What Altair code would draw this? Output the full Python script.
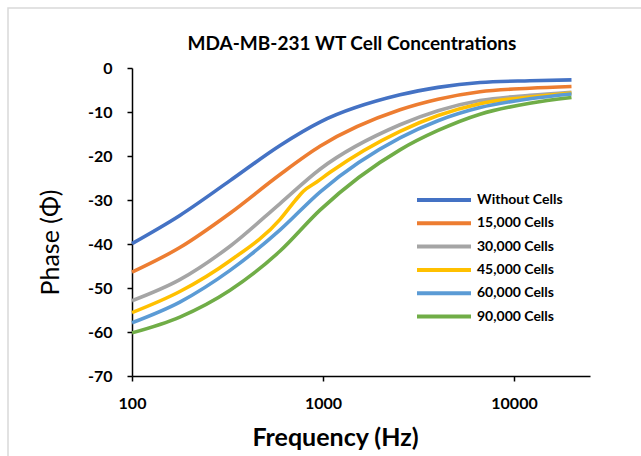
import altair as alt
import pandas as pd

series_names = ["Without Cells", "15,000 Cells", "30,000 Cells", "45,000 Cells", "60,000 Cells", "90,000 Cells"]
colors = ["#4472C4", "#ED7D31", "#A5A5A5", "#FFC000", "#5B9BD5", "#70AD47"]

freq_common = [100, 178, 326, 596, 964, 2530, 4000, 6640, 12100, 20000]
without_cells = [-39.9, -33.5, -25.6, -17.6, -12.3, -6.1, -4.4, -3.3, -2.9, -2.7]
cells_15k = [-46.4, -40.8, -33.0, -24.2, -17.8, -9.5, -7.1, -5.4, -4.6, -4.2]
cells_30k = [-52.9, -48.1, -40.5, -30.8, -23.0, -12.9, -9.7, -7.4, -6.2, -5.5]
freq_45k = [100, 178, 326, 596, 713, 789, 927, 1089, 2530, 4000, 6640, 12100, 20000]
cells_45k = [-55.6, -50.8, -43.8, -34.4, -30.2, -28.0, -25.9, -23.7, -14.4, -10.8, -8.1, -6.6, -5.7]
cells_60k = [-57.9, -53.2, -46.0, -36.8, -28.2, -15.9, -12.0, -9.0, -7.0, -5.9]
cells_90k = [-60.2, -56.6, -50.5, -41.6, -32.3, -18.6, -14.2, -10.5, -8.0, -6.7]

series_freqs = [freq_common, freq_common, freq_common, freq_45k, freq_common, freq_common]
series_vals = [without_cells, cells_15k, cells_30k, cells_45k, cells_60k, cells_90k]

rows = []
for name, fs, vs in zip(series_names, series_freqs, series_vals):
    for i, (f, v) in enumerate(zip(fs, vs)):
        rows.append({"series": name, "freq": f, "phase": v, "order": i})
df = pd.DataFrame(rows)

FONT = "Lato"

lines = alt.Chart(df).mark_line(strokeWidth=3.6, interpolate="monotone", clip=False).encode(
    x=alt.X("freq:Q",
            scale=alt.Scale(type="log", domain=[100, 25000], nice=False),
            axis=alt.Axis(values=[100, 1000, 10000], format="d", grid=False, labelFlush=False,
                          title="Frequency (Hz)", titleFontSize=25, titleFontWeight="bold",
                          titleX=203, titleY=61, titleBaseline="middle",
                          labelFontSize=16, labelFontWeight="bold", labelPadding=14,
                          tickSize=5, tickWidth=1.5, tickColor="black",
                          domainColor="black", domainWidth=1.5,
                          labelColor="black", titleColor="black")),
    y=alt.Y("phase:Q",
            scale=alt.Scale(domain=[-70, 0], nice=False, zero=False),
            axis=alt.Axis(values=[-70, -60, -50, -40, -30, -20, -10, 0], grid=False,
                          labelExpr="'' + datum.value", labelFlush=False,
                          title="Phase (Φ)", titleFontSize=25, titleFontWeight="normal",
                          titleX=-82, titleY=174, titleAngle=270, titleAlign="center",
                          titleBaseline="middle",
                          labelFontSize=16, labelFontWeight="bold", labelPadding=15,
                          tickSize=5, tickWidth=1.5, tickColor="black",
                          domainColor="black", domainWidth=1.5,
                          labelColor="black", titleColor="black")),
    color=alt.Color("series:N",
                    scale=alt.Scale(domain=series_names, range=colors),
                    sort=series_names,
                    legend=alt.Legend(title=None, orient="none", legendX=283, legendY=124,
                                      symbolType="stroke", symbolSize=2916, symbolStrokeWidth=4,
                                      clipHeight=16, rowPadding=7.3,
                                      labelFontSize=14, labelFontWeight="bold", labelColor="black",
                                      labelOffset=4)),
    order="order:Q",
)

frame = alt.Chart(pd.DataFrame({"a": [0]})).mark_rect(
    fill=None, stroke="#d9d9d9", strokeWidth=1.5, clip=False
).encode(x=alt.value(-124), x2=alt.value(700), y=alt.value(-60), y2=alt.value(500))

chart = alt.layer(frame, lines).properties(
    width=458, height=308,
    title=alt.TitleParams("MDA-MB-231 WT Cell Concentrations", fontSize=19, fontWeight="bold",
                          color="black", anchor="middle", dx=-9, dy=56, offset=0,
                          baseline="middle", font=FONT),
    autosize=alt.AutoSizeParams(type="none"),
    padding={"left": 132, "top": 68, "right": 51, "bottom": 80},
).configure(font=FONT).configure_view(stroke=None)

chart.save("out.html", embed_options={"renderer": "svg", "actions": False})
